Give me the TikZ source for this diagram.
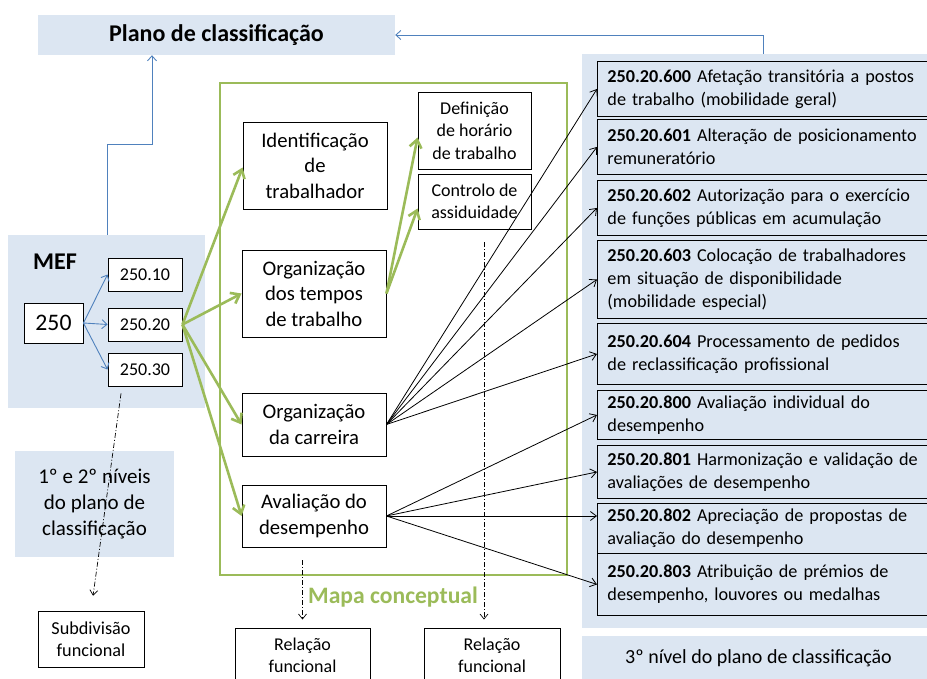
\documentclass[tikz,border=0pt]{standalone}
\usepackage{fontspec}
\setmainfont{Carlito}
\usetikzlibrary{arrows.meta,calc}
\definecolor{lblue}{HTML}{DCE6F2}
\definecolor{mblue}{HTML}{4F81BD}
\definecolor{ogreen}{HTML}{9BBB59}
\begin{document}
\begin{tikzpicture}[x=1pt,y=-1pt,
  bg/.style={fill=lblue, draw=none, inner sep=0pt, align=center},
  wbox/.style={draw=black, fill=white, line width=0.9pt, align=center, inner sep=0pt},
  big/.style={font=\fontsize{20.7}{25.5}\selectfont},
  small/.style={font=\fontsize{18}{22.5}\selectfont},
  rbox/.style={draw=black, fill=lblue, line width=0.9pt, anchor=north west, align=left, inner xsep=10pt, inner ysep=0pt, text width=318pt, font=\fontsize{18.2}{23}\selectfont},
  barrow/.style={draw=mblue, line width=0.9pt, -{Straight Barb[length=5pt,width=9pt]}},
  garrow/.style={draw=ogreen, line width=2.6pt, -{Straight Barb[length=8pt,width=12pt]}},
  karrow/.style={draw=black, line width=0.8pt, -{Straight Barb[length=6pt,width=9pt]}},
  ddarrow/.style={draw=black, line width=0.7pt, dash pattern=on 5pt off 2pt on 1pt off 2pt, -{Straight Barb[length=5pt,width=8pt]}},
]
\useasboundingbox (0,0) rectangle (927,679);

% background panels
\node[bg, minimum width=357pt, minimum height=40pt, font=\fontsize{24}{28}\selectfont\bfseries] (plano) at (216.5,35) {Plano de classificação};
\node[bg, minimum width=197pt, minimum height=173pt] (mef) at (106.5,321.5) {};
\node[font=\fontsize{24}{28}\selectfont\bfseries, inner sep=0pt] (meflbl) at (55,262) {MEF};
\node[bg, minimum width=159pt, minimum height=106pt, font=\fontsize{21}{26}\selectfont] (niveis) at (94.5,504) {1º e 2º níveis\\do plano de\\classificação};
\node[bg, minimum width=353pt, minimum height=574pt] (rpanel) at (758.5,341) {};
\node[bg, minimum width=353pt, minimum height=45pt, font=\fontsize{20}{24}\selectfont] (niv3) at (758.5,658.5) {3º nível do plano de classificação};

% green frame
\node[draw=ogreen, line width=2.6pt, minimum width=347pt, minimum height=492pt, inner sep=0pt] (mapa) at (393.5,329) {};
\node[text=ogreen, font=\fontsize{23.6}{28}\selectfont\bfseries, inner sep=0pt] (mapalbl) at (393,597) {Mapa conceptual};

% MEF boxes
\node[wbox, minimum width=59pt, minimum height=40pt, font=\fontsize{23.7}{28}\selectfont] (n250) at (53.5,323) {250};
\node[wbox, small, minimum width=74pt, minimum height=33pt] (n10) at (145,274.5) {250.10};
\node[wbox, small, minimum width=74pt, minimum height=33pt] (n20) at (145,324.5) {250.20};
\node[wbox, small, minimum width=74pt, minimum height=33pt] (n30) at (145,369.5) {250.30};
\node[wbox, minimum width=106pt, minimum height=56pt, font=\fontsize{18.2}{21.5}\selectfont] (subdiv) at (91,639) {Subdivisão\\funcional};

% concept map boxes
\node[wbox, big, minimum width=144pt, minimum height=87pt] (ident) at (315,165.5) {Identificação\\de\\trabalhador};
\node[wbox, big, minimum width=144pt, minimum height=87pt] (tempos) at (314,293.5) {Organização\\dos tempos\\de trabalho};
\node[wbox, big, minimum width=144pt, minimum height=63pt] (carreira) at (314,424.5) {Organização\\da carreira};
\node[wbox, big, minimum width=144pt, minimum height=62pt] (aval) at (314,516) {Avaliação do\\desempenho};
\node[wbox, small, minimum width=113pt, minimum height=77pt] (defin) at (474.5,130.5) {Definição\\de horário\\de trabalho};
\node[wbox, small, minimum width=113pt, minimum height=55pt] (contr) at (474.5,201.5) {Controlo de\\assiduidade};
\node[wbox, minimum width=135pt, minimum height=55pt, font=\fontsize{18}{22.5}\selectfont] (rel1) at (302.5,655.5) {Relação\\funcional};
\node[wbox, minimum width=136pt, minimum height=55pt, font=\fontsize{18}{22.5}\selectfont] (rel2) at (492,655.5) {Relação\\funcional};

% third level boxes
\node[rbox, minimum height=55pt] (b600) at (597,61) {\textbf{250.20.600} Afetação transitória a postos\\de trabalho (mobilidade geral)};
\node[rbox, minimum height=55pt] (b601) at (597,119) {\textbf{250.20.601} Alteração de posicionamento\\remuneratório};
\node[rbox, minimum height=55pt] (b602) at (597,180) {\textbf{250.20.602} Autorização para o exercício\\de funções públicas em acumulação};
\node[rbox, minimum height=78pt] (b603) at (597,240) {\textbf{250.20.603} Colocação de trabalhadores\\em situação de disponibilidade\\(mobilidade especial)};
\node[rbox, minimum height=61pt] (b604) at (597,323) {\textbf{250.20.604} Processamento de pedidos\\de reclassificação profissional};
\node[rbox, minimum height=49pt] (b800) at (597,390) {\textbf{250.20.800} Avaliação individual do\\desempenho};
\node[rbox, minimum height=53pt] (b801) at (597,445) {\textbf{250.20.801} Harmonização e validação de\\avaliações de desempenho};
\node[rbox, minimum height=50pt] (b802) at (597,503) {\textbf{250.20.802} Apreciação de propostas de\\avaliação do desempenho};
\node[rbox, minimum height=62pt] (b803) at (597,553) {\textbf{250.20.803} Atribuição de prémios de\\desempenho, louvores ou medalhas};

% blue connectors
\coordinate (k1) at (107,144);
\coordinate (k2) at (152,144);
\coordinate (k3) at (763,35);
\draw[barrow] (k1 |- mef.north) -- (k1) -- (k2) -- (k2 |- plano.south);
\draw[barrow] (k3 |- rpanel.north) -- (k3) -- (plano.east);
\draw[barrow] (n250.east) -- (n10.west);
\draw[barrow] (n250.east) -- (n20.west);
\draw[barrow] (n250.east) -- (n30.west);

% green connectors
\draw[garrow] (n20.east) -- ([yshift=-2pt]ident.west);
\draw[garrow] (n20.east) -- (tempos.west);
\draw[garrow] (n20.east) -- (carreira.west);
\draw[garrow] (n20.east) -- (aval.west);
\draw[garrow] (tempos.east) -- ([yshift=-7pt]defin.west);
\draw[garrow] (tempos.east) -- ([yshift=-7pt]contr.west);

% black connectors
\foreach \b in {b600,b601,b602,b603,b604}
  \draw[karrow] (carreira.east) -- (\b.west);
\foreach \b in {b800,b801,b803}
  \draw[karrow] (aval.east) -- (\b.west);
\draw[karrow] (aval.east) -- (aval.east -| b802.west);

% dash-dot connectors
\draw[ddarrow, shorten <=7pt, shorten >=15pt] ([xshift=-23pt]n30.south) -- (subdiv.north);
\draw[ddarrow, shorten <=13pt, shorten >=8pt] (aval.south -| rel1.north) -- (rel1.north);
\draw[ddarrow, shorten <=13pt, shorten >=8pt] ([xshift=-8pt]contr.south -| rel2.north) -- ([xshift=-8pt]rel2.north);
\end{tikzpicture}
\end{document}
